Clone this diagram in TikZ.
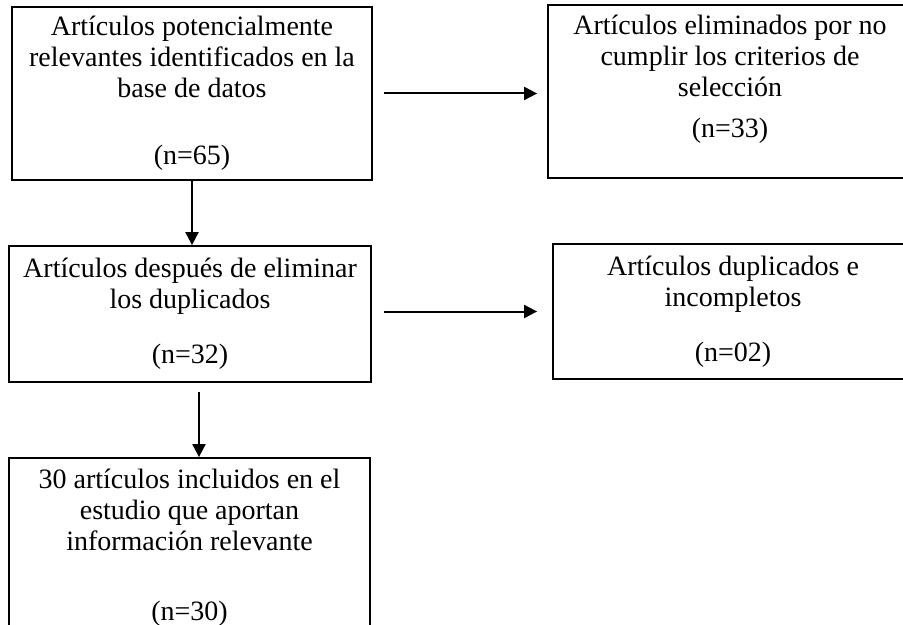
\documentclass[tikz,border=0pt]{standalone}
\usepackage{fontspec}
\setmainfont{Liberation Serif}
\usepackage{tikz}
\usetikzlibrary{arrows.meta}

\begin{document}
\begin{tikzpicture}[x=0.5pt,y=-0.5pt,
	caja/.style={draw,line width=0.9pt,align=center,inner sep=0pt,font=\fontsize{14}{15.5}\selectfont},
	flecha/.style={-{Triangle[length=6.5pt,width=6.5pt]},line width=1pt}]
	% Fix the size of the page
	\useasboundingbox (0,0) rectangle (903,625);
	\clip (0,0) rectangle (903,625);
	
	% Define the boxes
	\node[caja,line width=1.3pt,minimum width=180pt,minimum height=86.5pt] (b1) at (192,93.5) {Artículos potencialmente\\relevantes identificados en la\\base de datos\\[18pt](n=65)};
	\node[caja,minimum width=182pt,minimum height=86.5pt] (b2) at (730,91.5) {Artículos eliminados por no\\cumplir los criterios de\\selección\\[5pt](n=33)\\[0pt]};
	\node[caja,minimum width=181pt,minimum height=68pt] (b3) at (190,314) {Artículos después de eliminar\\los duplicados\\[12pt](n=32)};
	\node[caja,minimum width=180pt,minimum height=67.5pt] (b4) at (733,311.5) {Artículos duplicados e\\incompletos\\[12pt](n=02)};
	\node[caja,minimum width=180.5pt,minimum height=89.5pt] (b5) at (189.5,547.5) {30 artículos incluidos en el\\estudio que aportan\\información relevante\\[19.5pt](n=30)};
	
	% Draw the arrows
	\draw[flecha,shorten <=5.5pt,shorten >=5pt] (b1.east) -- (b1.east -| b2.west);
	\draw[flecha] (b1.south) -- (b1.south |- b3.north);
	\draw[flecha,shorten <=6pt,shorten >=7.5pt] (b4.west -| b3.east) -- (b4.west);
	\draw[flecha,shorten <=4.5pt] ([xshift=4.5pt]b3.south) -- ([xshift=4.5pt]b3.south |- b5.north);
\end{tikzpicture}
\end{document}
